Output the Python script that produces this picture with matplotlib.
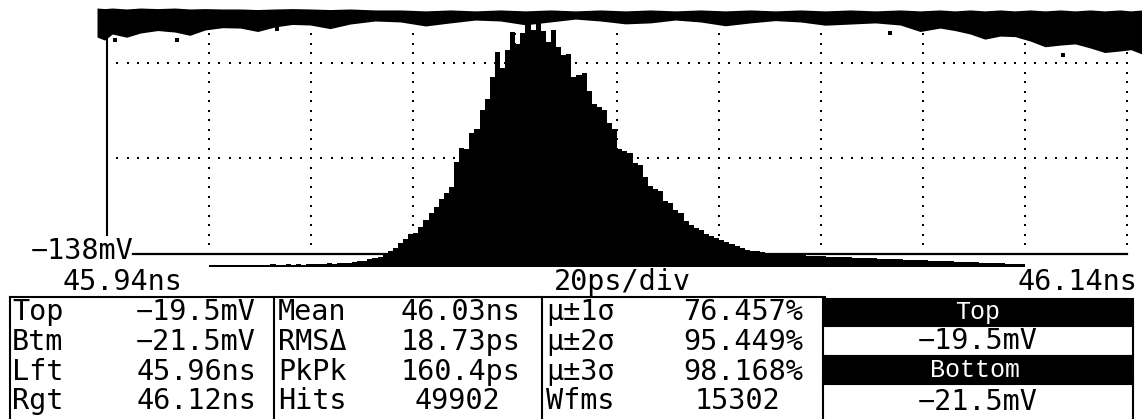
import numpy as np
import matplotlib.pyplot as plt

# Histogram of edge crossings on a sampling scope, 20 ps/div

W, H = 1142, 419          # screen size, px

t_left, t_right = 45.94, 46.14     # ns across the graticule
ns_per_div = 0.02
ref_mv = -138.0                    # bottom graticule level
mv_per_div = 50.0

# histogram window
lft_ns, rgt_ns = 45.96, 46.12
top_mv, btm_mv = -19.5, -21.5

# hits per 1 ps bin from 45.96 ns to 46.12 ns
hits = [12, 12, 12, 12, 12, 12, 12, 12, 12, 12, 12,
        12, 17, 12, 12, 17, 12, 17, 12, 17, 17,
        17, 17, 23, 17, 23, 23,
        23, 29, 35, 35, 46, 52, 58,
        69, 92, 110, 139, 162, 191, 197,
        231, 272, 312, 347, 393, 428, 462,
        607, 690, 680, 775, 800, 907, 971,
        1098, 1240, 1150, 1254, 1360, 1290, 1353,
        1440, 1370, 1450, 1364, 1300, 1370, 1272,
        1225, 1230, 1100, 1110, 1120, 1017, 940,
        925, 910, 832, 800, 680, 670, 660,
        601, 590, 520, 470, 451, 440, 381,
        370, 329, 310, 266, 243, 225, 214,
        191, 179, 168, 156, 145, 133, 121,
        110, 98, 92, 92, 87, 81, 81,
        75, 75, 69, 69, 69, 69, 64, 64, 64, 64,
        58, 58, 58, 58, 58, 52, 52, 52, 52, 52,
        46, 46, 46, 46, 46, 40, 40, 40, 40, 40,
        35, 35, 35, 35, 35, 29, 29, 29, 29, 29,
        23, 23, 23, 23, 23, 17, 17, 17, 17]
total_hits = 49902
wfms = 15302

# waveform trace at the top of the screen (outline of the persistence band)
band_t = [45.9380, 45.9395, 45.9410, 45.9438, 45.9465, 45.9499, 45.9533,
          45.9562, 45.9592, 45.9626, 45.9661, 45.9695, 45.9729, 45.9763,
          45.9798, 45.9837, 45.9876, 45.9925, 45.9975, 46.0024, 46.0073,
          46.0122, 46.0171, 46.0220, 46.0269, 46.0318, 46.0367, 46.0416,
          46.0465, 46.0514, 46.0563, 46.0612, 46.0661, 46.0710, 46.0759,
          46.0808, 46.0857, 46.0906, 46.0955, 46.0994, 46.1033, 46.1062,
          46.1092, 46.1121, 46.1151, 46.1180, 46.1210, 46.1239, 46.1269,
          46.1298, 46.1327, 46.1356, 46.1386, 46.1407, 46.1429]
band_lo = [-24.4, -26.0, -22.8, -24.5, -22.3, -21.0, -21.8, -23.5, -20.7,
           -19.5, -19.7, -21.5, -19.1, -17.8, -18.1, -20.0, -17.6, -16.0,
           -16.5, -18.6, -17.0, -15.5, -16.0, -18.0, -16.5, -15.0, -16.0,
           -17.5, -17.0, -15.5, -16.5, -18.5, -17.0, -15.8, -16.5, -18.2,
           -17.6, -17.0, -18.1, -21.5, -19.7, -21.0, -22.8, -25.5, -23.9,
           -24.2, -26.5, -29.5, -28.6, -28.0, -30.1, -32.5, -31.7, -31.0, -33.3]
band_hi = [-9.2, -9.5, -9.2, -9.7, -9.2, -9.5, -9.2, -9.7, -9.5, -9.7,
           -9.7, -10.0, -9.7, -9.5, -9.7, -10.0, -9.7, -10.2,
           -10.2, -10.7, -10.2, -10.7, -10.2, -10.7, -10.2, -10.7, -10.2,
           -10.7, -10.2, -10.7, -10.2, -10.7, -10.2, -10.7, -10.2, -10.7,
           -10.2, -10.7, -10.2, -10.7, -10.2, -10.7, -10.2, -10.7, -10.2,
           -10.7, -10.2, -10.7, -10.2, -10.7, -10.2, -10.7, -10.2, -10.7, -10.2]
stray_t = [45.9416, 45.9537, 45.9733, 46.0935, 46.1275]
stray_mv = [-26.0, -26.0, -20.2, -22.3, -33.8]

# measurement table
edge_names = ["Top", "Btm", "Lft", "Rgt"]
edge_vals = ["\u221219.5mV", "\u221221.5mV", "45.96ns", "46.12ns"]
stat_names = ["Mean", "RMS\u0394", "PkPk", "Hits"]
stat_vals = ["46.03ns", "18.73ps", "160.4ps", str(total_hits)]
sig_names = ["\u03bc\u00b11\u03c3", "\u03bc\u00b12\u03c3", "\u03bc\u00b13\u03c3", "Wfms"]
sig_vals = ["76.457%", "95.449%", "98.168%", str(wfms)]
marker_names = ["Top", "Bottom"]
marker_vals = ["\u221219.5mV", "\u221221.5mV"]

mono = "DejaVu Sans Mono"
fs = 20.5

fig = plt.figure(figsize=(W / 100, H / 100), dpi=100)
fig.patch.set_facecolor("white")

# graticule / waveform axes, covers px x 97..1142, y 0..270
ax = fig.add_axes([97 / W, (H - 270) / H, (W - 97) / W, 270 / H])
ax.set_xlim(45.9380, 46.1429)
ax.set_ylim(-146.4, -5.0)
ax.axis("off")

ax.fill_between(band_t, band_lo, band_hi, color="black", lw=0)
ax.scatter(stray_t, stray_mv, s=8, color="black", marker="s", lw=0)

# dotted graticule
sub = np.arange(1, 24) / 10
for k in range(1, 11):
    tx = t_left + k * ns_per_div
    ax.scatter(np.full(sub.size, tx), ref_mv + mv_per_div * sub,
               s=4, color="black", marker="s", lw=0)
xs = t_left + ns_per_div * np.arange(1, 100) / 10
for d in (1, 2):
    ax.scatter(xs, np.full(xs.size, ref_mv + mv_per_div * d),
               s=4, color="black", marker="s", lw=0)
ax.plot([t_left, t_left], [-24.4, -128.1], color="black", lw=1.5)
ax.plot([45.9451, t_right], [ref_mv, ref_mv], color="black", lw=1.6)

# histogram on its own count scale, baseline just below the graticule
axh = ax.twinx()
axh.set_ylim(-17, 1543)
axh.axis("off")
edges = np.linspace(lft_ns, rgt_ns, len(hits) + 1)
axh.stairs(hits, edges, fill=True, color="black", lw=0)

# overlay in screen pixels for labels and the table
ov = fig.add_axes([0, 0, 1, 1])
ov.set_xlim(0, W)
ov.set_ylim(H, 0)
ov.axis("off")

ov.text(133, 251, "\u2212138mV", family=mono, fontsize=fs, ha="right", va="center")
ov.text(122, 282, f"{t_left:.2f}ns", family=mono, fontsize=fs, ha="center", va="center")
ov.text(622, 282, "20ps/div", family=mono, fontsize=fs, ha="center", va="center")
ov.text(1137, 282, f"{t_right:.2f}ns", family=mono, fontsize=fs, ha="right", va="center")

lw = 1.5
ov.plot([10, 825], [297, 297], color="black", lw=lw)
for x in (10, 274, 542):
    ov.plot([x, x], [297, H], color="black", lw=lw)

row_y = [312, 342, 372, 401]
for i in range(4):
    y = row_y[i]
    ov.text(12, y, edge_names[i], family=mono, fontsize=fs, ha="left", va="center")
    ov.text(256, y, edge_vals[i], family=mono, fontsize=fs, ha="right", va="center")
    ov.text(278, y, stat_names[i], family=mono, fontsize=fs, ha="left", va="center")
    ov.text(520 if i < 3 else 500, y, stat_vals[i], family=mono, fontsize=fs,
            ha="right", va="center")
    ov.text(546, y, sig_names[i], family=mono, fontsize=fs, ha="left", va="center")
    ov.text(803 if i < 3 else 780, y, sig_vals[i], family=mono, fontsize=fs,
            ha="right", va="center")

# marker readout boxes
bx0, bx1 = 823, 1133
boxes = [(299, 326), (326, 356), (356, 384), (384, H + 5)]
for j, (y0, y1) in enumerate(boxes):
    dark = j % 2 == 0
    ov.add_patch(plt.Rectangle((bx0, y0), bx1 - bx0, y1 - y0,
                               facecolor="black" if dark else "white",
                               edgecolor="black", lw=lw, clip_on=False))
ov.text(978, 312, marker_names[0], family="Liberation Mono", fontsize=18,
        color="white", ha="center", va="center")
ov.text(978, 341, marker_vals[0], family=mono, fontsize=fs, ha="center", va="center")
ov.text(975, 370, marker_names[1], family="Liberation Mono", fontsize=18,
        color="white", ha="center", va="center")
ov.text(978, 402, marker_vals[1], family=mono, fontsize=fs, ha="center", va="center")

fig.savefig("out.png", dpi=100, facecolor="white")
